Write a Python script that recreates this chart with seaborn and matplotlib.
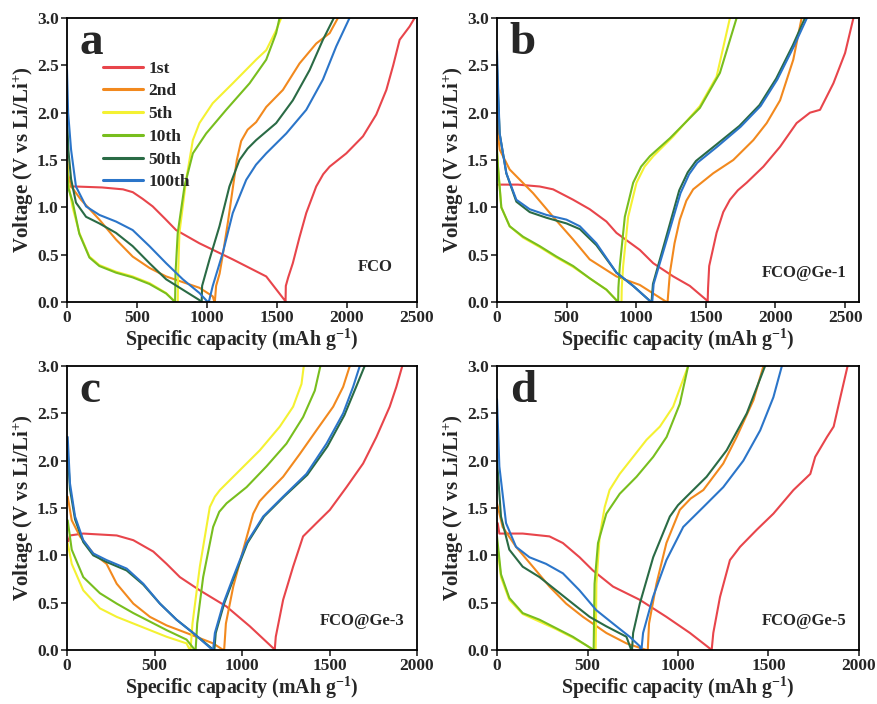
import numpy as np
import pandas as pd
import matplotlib
matplotlib.use("Agg")
import matplotlib.pyplot as plt
import seaborn as sns

# ---------------- data (capacity mAh/g, voltage V) ----------------
cycles = ["1st", "2nd", "5th", "10th", "50th", "100th"]
colors = ["#E8454B", "#F2891E", "#F4F132", "#78BE1E", "#2A6B45", "#2B75C9"]

# Panel a: FCO
a_1st_cap = [0, 60, 250, 400, 470, 540, 612, 700, 779, 946, 1184, 1423, 1554, 1561, 1563, 1580, 1613, 1660, 1709, 1780, 1830, 1876, 1995, 2114, 2209, 2281, 2330, 2376, 2447, 2483]
a_1st_v = [1.22, 1.22, 1.21, 1.19, 1.16, 1.09, 1.01, 0.88, 0.76, 0.62, 0.45, 0.27, 0.02, 0.0, 0.17, 0.26, 0.41, 0.68, 0.94, 1.22, 1.35, 1.43, 1.57, 1.75, 1.98, 2.24, 2.5, 2.77, 2.91, 3.0]
a_2nd_cap = [0, 8, 30, 100, 231, 350, 469, 589, 708, 946, 1041, 1053, 1056, 1065, 1090, 1113, 1150, 1184, 1213, 1244, 1290, 1351, 1423, 1542, 1661, 1780, 1876, 1935]
a_2nd_v = [1.55, 1.35, 1.22, 1.08, 0.87, 0.66, 0.48, 0.36, 0.27, 0.15, 0.06, 0.0, 0.0, 0.17, 0.3, 0.5, 0.85, 1.2, 1.5, 1.7, 1.82, 1.9, 2.06, 2.24, 2.52, 2.73, 2.84, 3.0]
a_5th_cap = [0, 10, 40, 88, 160, 231, 350, 469, 589, 708, 775, 791, 794, 803, 851, 899, 946, 1041, 1184, 1351, 1423, 1494, 1530]
a_5th_v = [1.5, 1.25, 1.0, 0.73, 0.48, 0.39, 0.32, 0.27, 0.2, 0.095, 0.0, 0.0, 0.3, 0.73, 1.29, 1.71, 1.89, 2.1, 2.31, 2.56, 2.66, 2.87, 3.0]
a_10th_cap = [0, 10, 40, 88, 160, 231, 350, 469, 589, 708, 772, 775, 791, 839, 899, 994, 1137, 1304, 1423, 1494, 1518]
a_10th_v = [1.45, 1.2, 1.06, 0.72, 0.47, 0.38, 0.31, 0.26, 0.19, 0.09, 0.0, 0.3, 0.73, 1.22, 1.57, 1.78, 2.03, 2.31, 2.56, 2.84, 3.0]
a_50th_cap = [0, 10, 29, 64, 136, 231, 350, 469, 589, 708, 827, 946, 958, 962, 965, 1018, 1089, 1160, 1232, 1290, 1351, 1494, 1613, 1733, 1828, 1906]
a_50th_v = [1.96, 1.6, 1.3, 1.05, 0.9, 0.83, 0.73, 0.59, 0.41, 0.24, 0.13, 0.02, 0.0, 0.0, 0.17, 0.45, 0.8, 1.22, 1.5, 1.62, 1.71, 1.89, 2.13, 2.45, 2.77, 3.0]
a_100th_cap = [0, 8, 29, 64, 136, 231, 350, 469, 589, 708, 827, 946, 1006, 1013, 1041, 1113, 1184, 1280, 1350, 1423, 1566, 1709, 1828, 1923, 2018]
a_100th_v = [2.45, 2.0, 1.61, 1.22, 1.01, 0.92, 0.85, 0.76, 0.59, 0.41, 0.24, 0.095, 0.0, 0.0, 0.17, 0.52, 0.94, 1.29, 1.45, 1.57, 1.78, 2.03, 2.35, 2.7, 3.0]

# Panel b: FCO@Ge-1
b_1st_cap = [7, 150, 307, 403, 547, 666, 786, 858, 1026, 1122, 1266, 1385, 1505, 1513, 1516, 1524, 1577, 1625, 1673, 1730, 1793, 1913, 2033, 2152, 2248, 2320, 2416, 2500, 2560]
b_1st_v = [1.24, 1.24, 1.22, 1.19, 1.08, 0.98, 0.85, 0.73, 0.55, 0.41, 0.27, 0.17, 0.02, 0.0, 0.15, 0.38, 0.73, 0.95, 1.08, 1.18, 1.26, 1.43, 1.64, 1.89, 2.0, 2.03, 2.31, 2.63, 3.0]
b_2nd_cap = [0, 7, 19, 91, 259, 403, 547, 666, 858, 1026, 1218, 1225, 1242, 1275, 1313, 1360, 1409, 1553, 1697, 1841, 1937, 2033, 2128, 2188]
b_2nd_v = [2.0, 1.78, 1.61, 1.4, 1.15, 0.9, 0.66, 0.45, 0.27, 0.18, 0.0, 0.0, 0.31, 0.62, 0.87, 1.07, 1.19, 1.36, 1.5, 1.71, 1.89, 2.13, 2.56, 3.0]
b_5th_cap = [0, 7, 31, 91, 187, 307, 427, 547, 666, 786, 870, 894, 896, 906, 942, 1002, 1060, 1122, 1266, 1457, 1577, 1673]
b_5th_v = [1.6, 1.43, 1.0, 0.8, 0.68, 0.58, 0.47, 0.37, 0.25, 0.13, 0.0, 0.0, 0.15, 0.38, 0.9, 1.26, 1.43, 1.54, 1.75, 2.07, 2.38, 3.0]
b_10th_cap = [0, 7, 31, 91, 187, 307, 427, 547, 666, 786, 870, 872, 882, 918, 978, 1035, 1098, 1242, 1457, 1601, 1721]
b_10th_v = [1.6, 1.43, 1.0, 0.8, 0.69, 0.59, 0.48, 0.38, 0.25, 0.13, 0.0, 0.15, 0.38, 0.9, 1.26, 1.43, 1.54, 1.73, 2.05, 2.42, 3.0]
b_50th_cap = [0, 7, 19, 67, 139, 235, 355, 499, 595, 714, 858, 978, 1107, 1110, 1120, 1214, 1309, 1370, 1429, 1573, 1741, 1885, 2005, 2124, 2212]
b_50th_v = [2.5, 2.2, 1.78, 1.36, 1.06, 0.95, 0.89, 0.83, 0.77, 0.6, 0.31, 0.17, 0.0, 0.0, 0.19, 0.68, 1.18, 1.37, 1.49, 1.66, 1.86, 2.08, 2.36, 2.71, 3.0]
b_100th_cap = [0, 7, 19, 67, 139, 235, 355, 499, 595, 714, 858, 978, 1107, 1115, 1125, 1220, 1318, 1380, 1438, 1581, 1749, 1893, 2013, 2132, 2226]
b_100th_v = [2.65, 2.3, 1.78, 1.36, 1.08, 0.98, 0.92, 0.87, 0.8, 0.62, 0.31, 0.17, 0.0, 0.0, 0.19, 0.66, 1.15, 1.35, 1.47, 1.64, 1.85, 2.07, 2.35, 2.7, 3.0]

# Panel c: FCO@Ge-3
c_1st_cap = [8, 17, 93, 284, 379, 493, 569, 645, 759, 911, 1045, 1178, 1187, 1193, 1235, 1292, 1349, 1425, 1502, 1597, 1692, 1768, 1844, 1882, 1916]
c_1st_v = [1.15, 1.21, 1.23, 1.21, 1.16, 1.04, 0.91, 0.77, 0.63, 0.46, 0.25, 0.02, 0.0, 0.14, 0.53, 0.88, 1.2, 1.34, 1.48, 1.72, 1.97, 2.25, 2.57, 2.78, 3.0]
c_2nd_cap = [4, 27, 74, 150, 226, 284, 379, 474, 569, 683, 835, 893, 898, 908, 950, 1007, 1064, 1100, 1140, 1235, 1330, 1425, 1521, 1578, 1616]
c_2nd_v = [1.62, 1.37, 1.2, 1.02, 0.91, 0.7, 0.49, 0.35, 0.26, 0.18, 0.07, 0.0, 0.0, 0.28, 0.67, 1.06, 1.44, 1.57, 1.65, 1.83, 2.07, 2.32, 2.57, 2.78, 3.0]
c_5th_cap = [4, 27, 93, 188, 284, 379, 474, 569, 683, 702, 706, 717, 759, 816, 845, 874, 988, 1102, 1216, 1292, 1340, 1353]
c_5th_v = [1.13, 0.91, 0.63, 0.44, 0.35, 0.28, 0.21, 0.14, 0.07, 0.0, 0.0, 0.28, 0.88, 1.51, 1.62, 1.69, 1.9, 2.11, 2.36, 2.57, 2.81, 3.0]
c_10th_cap = [4, 27, 93, 188, 284, 379, 474, 569, 683, 731, 735, 744, 778, 835, 870, 912, 1026, 1140, 1254, 1349, 1416, 1448]
c_10th_v = [1.37, 1.06, 0.77, 0.6, 0.49, 0.39, 0.3, 0.21, 0.11, 0.0, 0.0, 0.28, 0.77, 1.3, 1.46, 1.55, 1.72, 1.94, 2.18, 2.46, 2.74, 3.0]
c_50th_cap = [4, 17, 46, 93, 150, 226, 341, 436, 531, 626, 721, 838, 842, 850, 898, 955, 1031, 1126, 1240, 1373, 1488, 1585, 1650, 1701]
c_50th_v = [2.1, 1.7, 1.38, 1.14, 1.0, 0.93, 0.84, 0.69, 0.49, 0.32, 0.18, 0.0, 0.0, 0.18, 0.49, 0.77, 1.13, 1.41, 1.62, 1.85, 2.15, 2.48, 2.77, 3.0]
c_100th_cap = [4, 17, 46, 93, 150, 226, 341, 436, 531, 626, 721, 832, 835, 845, 893, 950, 1026, 1121, 1235, 1368, 1483, 1578, 1635, 1673]
c_100th_v = [2.25, 1.76, 1.41, 1.16, 1.02, 0.95, 0.86, 0.7, 0.49, 0.32, 0.18, 0.0, 0.0, 0.18, 0.49, 0.77, 1.13, 1.41, 1.62, 1.86, 2.18, 2.5, 2.78, 3.0]

# Panel d: FCO@Ge-5
d_1st_cap = [4, 13, 142, 290, 364, 456, 530, 641, 789, 936, 1066, 1180, 1186, 1195, 1232, 1287, 1343, 1435, 1527, 1638, 1731, 1758, 1823, 1860, 1897, 1937]
d_1st_v = [1.34, 1.23, 1.23, 1.2, 1.13, 0.98, 0.84, 0.67, 0.53, 0.35, 0.18, 0.01, 0.0, 0.18, 0.56, 0.95, 1.09, 1.27, 1.44, 1.69, 1.86, 2.04, 2.25, 2.36, 2.67, 3.0]
d_2nd_cap = [0, 31, 105, 198, 290, 382, 475, 604, 715, 826, 833, 840, 881, 936, 1010, 1070, 1140, 1250, 1324, 1417, 1472]
d_2nd_v = [1.55, 1.3, 1.09, 0.88, 0.67, 0.49, 0.35, 0.18, 0.07, 0.0, 0.0, 0.28, 0.7, 1.13, 1.48, 1.6, 1.69, 1.97, 2.25, 2.64, 3.0]
d_5th_cap = [0, 22, 68, 142, 235, 327, 419, 493, 534, 545, 547, 549, 567, 595, 622, 678, 752, 826, 900, 973, 1056]
d_5th_v = [1.13, 0.77, 0.53, 0.38, 0.3, 0.22, 0.13, 0.05, 0.0, 0.0, 0.3, 0.7, 1.2, 1.51, 1.69, 1.86, 2.04, 2.22, 2.36, 2.57, 3.0]
d_10th_cap = [0, 22, 68, 142, 235, 327, 419, 493, 534, 536, 539, 558, 604, 678, 771, 863, 937, 1010, 1056]
d_10th_v = [1.2, 0.8, 0.55, 0.39, 0.32, 0.23, 0.14, 0.05, 0.0, 0.3, 0.7, 1.13, 1.44, 1.65, 1.83, 2.04, 2.25, 2.6, 3.0]
d_50th_cap = [0, 4, 22, 68, 142, 235, 327, 419, 512, 604, 715, 742, 746, 752, 789, 863, 955, 1000, 1047, 1158, 1269, 1380, 1481]
d_50th_v = [2.0, 1.9, 1.41, 1.06, 0.88, 0.77, 0.63, 0.49, 0.35, 0.25, 0.14, 0.0, 0.0, 0.18, 0.49, 0.98, 1.41, 1.53, 1.62, 1.83, 2.11, 2.5, 3.0]
d_100th_cap = [0, 13, 50, 105, 179, 271, 364, 456, 549, 660, 733, 789, 794, 798, 807, 862, 936, 1029, 1140, 1250, 1361, 1454, 1527, 1574]
d_100th_v = [2.65, 1.94, 1.34, 1.09, 0.98, 0.91, 0.81, 0.63, 0.42, 0.25, 0.14, 0.04, 0.0, 0.0, 0.18, 0.56, 0.95, 1.3, 1.51, 1.72, 2.0, 2.32, 2.67, 3.0]

panel_letters = ["a", "b", "c", "d"]
panel_names = ["FCO", "FCO@Ge-1", "FCO@Ge-3", "FCO@Ge-5"]
xlims = [2500, 2600, 2000, 2000]
xtick_sets = [[0, 500, 1000, 1500, 2000, 2500], [0, 500, 1000, 1500, 2000, 2500],
              [0, 500, 1000, 1500, 2000], [0, 500, 1000, 1500, 2000]]
yticks = [0.0, 0.5, 1.0, 1.5, 2.0, 2.5, 3.0]

panels = {
    "a": [(a_1st_cap, a_1st_v), (a_2nd_cap, a_2nd_v), (a_5th_cap, a_5th_v), (a_10th_cap, a_10th_v), (a_50th_cap, a_50th_v), (a_100th_cap, a_100th_v)],
    "b": [(b_1st_cap, b_1st_v), (b_2nd_cap, b_2nd_v), (b_5th_cap, b_5th_v), (b_10th_cap, b_10th_v), (b_50th_cap, b_50th_v), (b_100th_cap, b_100th_v)],
    "c": [(c_1st_cap, c_1st_v), (c_2nd_cap, c_2nd_v), (c_5th_cap, c_5th_v), (c_10th_cap, c_10th_v), (c_50th_cap, c_50th_v), (c_100th_cap, c_100th_v)],
    "d": [(d_1st_cap, d_1st_v), (d_2nd_cap, d_2nd_v), (d_5th_cap, d_5th_v), (d_10th_cap, d_10th_v), (d_50th_cap, d_50th_v), (d_100th_cap, d_100th_v)],
}

# ---------------- styling ----------------
sns.set_theme(style="ticks")
plt.rcParams["font.family"] = ["Liberation Serif", "DejaVu Serif"]
plt.rcParams["font.weight"] = "bold"
plt.rcParams["axes.labelweight"] = "bold"
plt.rcParams["mathtext.fontset"] = "custom"
plt.rcParams["mathtext.rm"] = "Liberation Serif:bold"
plt.rcParams["mathtext.bf"] = "Liberation Serif:bold"
plt.rcParams["mathtext.it"] = "Liberation Serif:bold"
plt.rcParams["axes.linewidth"] = 1.3
plt.rcParams["xtick.major.width"] = 1.2
plt.rcParams["ytick.major.width"] = 1.2
plt.rcParams["xtick.major.size"] = 4
plt.rcParams["ytick.major.size"] = 4
plt.rcParams["xtick.direction"] = "out"
plt.rcParams["ytick.direction"] = "out"

W, H = 878, 704
fig = plt.figure(figsize=(W / 100, H / 100), dpi=100)
fig.patch.set_facecolor("white")

rects_px = [(67, 18, 417, 302), (497, 18, 859, 302), (67, 366, 417, 650), (497, 366, 859, 650)]
name_pos = [(0.93, 0.095), (0.965, 0.075), (0.965, 0.075), (0.965, 0.075)]

palette = dict(zip(cycles, colors))

for i, letter in enumerate(panel_letters):
    l, t, r, b = rects_px[i]
    ax = fig.add_axes([l / W, 1 - b / H, (r - l) / W, (b - t) / H])
    rows = []
    for cyc, (cap, v) in zip(cycles, panels[letter]):
        for k, (cc, vv) in enumerate(zip(cap, v)):
            rows.append({"cycle": cyc, "order": k, "cap": cc, "volt": vv})
    df = pd.DataFrame(rows)
    sns.lineplot(data=df, x="cap", y="volt", hue="cycle", hue_order=cycles,
                 palette=palette, sort=False, estimator=None, units="cycle",
                 linewidth=1.5, ax=ax, legend=(i == 0))
    ax.set_xlim(0, xlims[i])
    ax.set_ylim(0, 3.0)
    ax.set_xticks(xtick_sets[i])
    ax.set_yticks(yticks)
    ax.set_yticklabels([f"{y:.1f}" for y in yticks])
    ax.tick_params(labelsize=12.5, pad=2)
    for lab in ax.get_xticklabels() + ax.get_yticklabels():
        lab.set_fontweight("bold")
    ax.set_xlabel("Specific capacity (mAh g$^{-1}$)", fontsize=14.3, fontweight="bold", labelpad=0)
    ax.set_ylabel("Voltage (V vs Li/Li$^{+}$)", fontsize=15, fontweight="bold", labelpad=1)
    for s in ax.spines.values():
        s.set_visible(True)
        s.set_linewidth(1.3)
        s.set_color("black")
    ax.text(0.035, 0.985, letter, transform=ax.transAxes, fontsize=34, fontweight="bold",
            va="top", ha="left")
    ax.text(name_pos[i][0], name_pos[i][1], panel_names[i], transform=ax.transAxes,
            fontsize=12, fontweight="bold", ha="right", va="bottom")
    if i == 0:
        leg = ax.legend(loc="upper left", bbox_to_anchor=(0.083, 0.875), frameon=False,
                        handlelength=2.3, handletextpad=0.3, labelspacing=0.38,
                        prop={"family": "Liberation Serif", "weight": "bold", "size": 12.5},
                        borderaxespad=0)
        for h in leg.get_lines():
            h.set_linewidth(2.2)

fig.savefig("out.png", dpi=100, facecolor="white")
